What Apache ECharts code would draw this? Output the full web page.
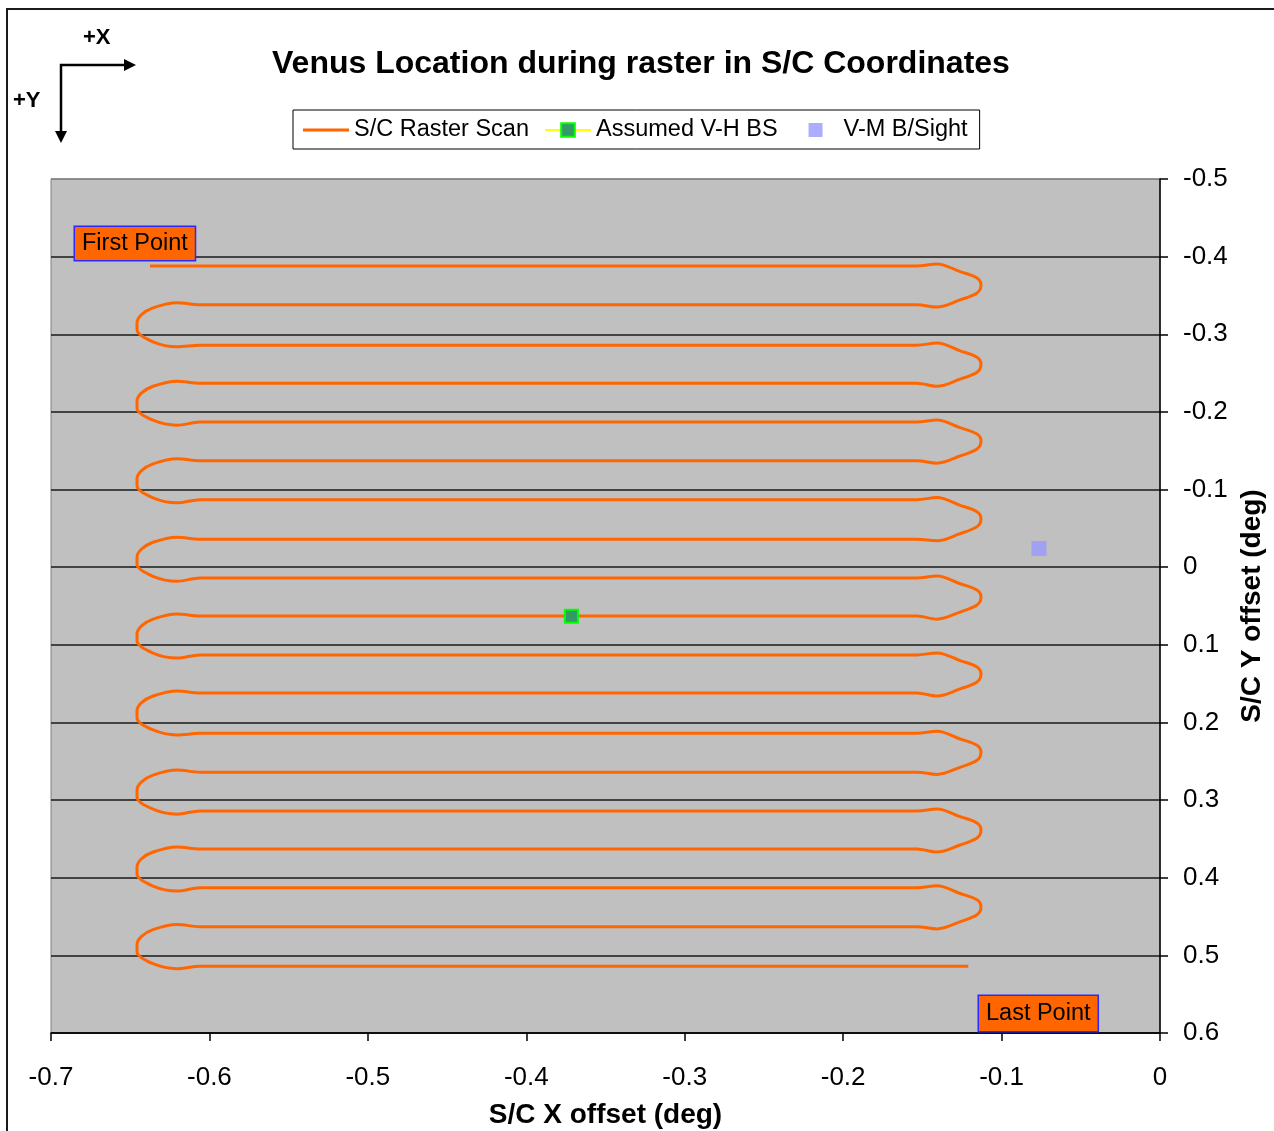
<!DOCTYPE html>
<html><head><meta charset="utf-8">
<script src="https://cdn.jsdelivr.net/npm/echarts@6/dist/echarts.min.js"></script>
<style>html,body{margin:0;padding:0;background:#fff}#c{width:1274px;height:1131px}</style>
</head><body><div id="c"></div>
<script>
// ---- data ----
const seriesNames = ['S/C Raster Scan', 'Assumed V-H BS', 'V-M B/Sight'];
// Y offsets of the 19 raster rows (deg)
const rowY = [-0.388, -0.338, -0.286, -0.237, -0.187, -0.137, -0.087, -0.036, 0.014, 0.063,
              0.113, 0.162, 0.214, 0.264, 0.314, 0.363, 0.413, 0.463, 0.514];
const scanStartX = -0.6375;   // first point
const scanEndX = -0.121;      // last point
// turnaround shape at the right end (x, y offset from the row it leaves)
const rightTurnX  = [-0.1534, -0.1408, -0.1262, -0.1155, -0.1130, -0.1155, -0.1262, -0.1408];
const rightTurnDY = [0, -0.0026, 0.0073, 0.0155, 0.0245, 0.0348, 0.0438, 0.0530];
const rightTurnEndX = -0.1534;
// turnaround shape at the left end
const leftTurnX  = [-0.6060, -0.6205, -0.6356, -0.6430, -0.6457, -0.6457, -0.6356, -0.6205];
const leftTurnDY = [0, -0.0026, 0.0039, 0.0129, 0.0232, 0.0322, 0.0477, 0.0541];
const leftTurnEndX = -0.6060;
const vhBoresight = [[-0.3715, 0.0632]];
const vmBoresight = [[-0.0764, -0.0241]];
// axes
const xMin = -0.7, xMax = 0, xStep = 0.1;
const yMin = -0.5, yMax = 0.6, yStep = 0.1;

// ---- build the raster path from the rows and the turn shapes ----
const scanPath = [[scanStartX, rowY[0]]];
for (let i = 0; i < rowY.length - 1; i++) {
  const right = i % 2 === 0;
  const tx = right ? rightTurnX : leftTurnX;
  const ty = right ? rightTurnDY : leftTurnDY;
  for (let k = 0; k < tx.length; k++) scanPath.push([tx[k], rowY[i] + ty[k]]);
  scanPath.push([right ? rightTurnEndX : leftTurnEndX, rowY[i + 1]]);
}
scanPath.push([scanEndX, rowY[rowY.length - 1]]);

const FONT = '"Liberation Sans", Arial, sans-serif';
const yTickCount = Math.round((yMax - yMin) / yStep) + 1;
const ySplitColors = [];
for (let i = 0; i < yTickCount; i++) ySplitColors.push(i === 0 ? '#808080' : '#1a1a1a');
const fmt1 = v => String(Number(v.toFixed(1)));

const chart = echarts.init(document.getElementById('c'), null, {renderer: 'canvas'});
chart.setOption({
  animation: false,
  backgroundColor: '#ffffff',
  textStyle: {fontFamily: FONT},
  title: {
    text: 'Venus Location during raster in S/C Coordinates',
    left: 267, top: 43, padding: 5,
    textStyle: {fontSize: 32, fontWeight: 'bold', color: '#000', fontFamily: FONT}
  },
  legend: {
    left: 293, top: 110, orient: 'horizontal',
    itemWidth: 46, itemHeight: 17, itemGap: 15,
    padding: [8, 12, 7, 10],
    symbolKeepAspect: true,
    borderColor: '#000', borderWidth: 1, backgroundColor: '#fff',
    textStyle: {fontSize: 23.5, color: '#000', fontFamily: FONT},
    data: [
      {name: seriesNames[0], icon: 'path://M0,0L0,0M46,17L46,17M0,7L46,7L46,10L0,10Z'},
      {name: seriesNames[1]},
      {name: seriesNames[2], icon: 'path://M0,0L0,0M46,17L46,17M16,1.5L30,1.5L30,15.5L16,15.5Z'}
    ]
  },
  grid: {
    left: 51, top: 179, width: 1109, height: 854,
    show: true, backgroundColor: '#C0C0C0', borderColor: '#808080', borderWidth: 1,
    containLabel: false, outerBoundsMode: 'none'
  },
  xAxis: {
    type: 'value', min: xMin, max: xMax, interval: xStep,
    name: 'S/C X offset (deg)', nameLocation: 'middle', nameGap: 68,
    nameTextStyle: {fontSize: 28, fontWeight: 'bold', color: '#000', fontFamily: FONT},
    axisLine: {show: true, onZero: false, lineStyle: {color: '#000', width: 1.5}},
    axisTick: {show: true, inside: false, length: 8, lineStyle: {color: '#000', width: 1.5}},
    axisLabel: {margin: 32, fontSize: 26, color: '#000', fontFamily: FONT, formatter: fmt1},
    splitLine: {show: false}
  },
  yAxis: {
    type: 'value', position: 'right', inverse: true,
    min: yMin, max: yMax, interval: yStep,
    name: 'S/C Y offset (deg)', nameLocation: 'middle', nameGap: 78, nameRotate: 90,
    nameTextStyle: {fontSize: 28, fontWeight: 'bold', color: '#000', fontFamily: FONT},
    axisLine: {show: true, onZero: false, lineStyle: {color: '#000', width: 1.5}},
    axisTick: {show: true, inside: false, length: 8, lineStyle: {color: '#000', width: 1.5}},
    axisLabel: {margin: 23, fontSize: 26, color: '#000', fontFamily: FONT, formatter: fmt1,
      padding: [4, 0, 0, 0]},
    splitLine: {show: true, lineStyle: {color: ySplitColors, width: 1.5}}
  },
  series: [
    {
      name: seriesNames[0], type: 'line', data: scanPath,
      symbol: 'none', showSymbol: false, smooth: 0.35, z: 2,
      lineStyle: {color: '#FF6600', width: 3},
      itemStyle: {color: '#FF6600'}
    },
    {
      name: seriesNames[1], type: 'line', data: vhBoresight,
      symbol: 'rect', symbolSize: 13, showSymbol: true, z: 4,
      lineStyle: {color: '#FFFF00', width: 2},
      itemStyle: {color: '#339966', borderColor: '#00FF00', borderWidth: 2}
    },
    {
      name: seriesNames[2], type: 'scatter', data: vmBoresight,
      symbol: 'rect', symbolSize: 15, z: 4,
      itemStyle: {color: '#9999FF'}
    }
  ],
  graphic: [
    {type: 'rect', silent: true, z: 0,
      shape: {x: 7, y: 9, width: 1320, height: 1200},
      style: {fill: 'none', stroke: '#1a1a1a', lineWidth: 2}},
    {type: 'polyline', silent: true,
      shape: {points: [[61, 132], [61, 65], [125, 65]]},
      style: {stroke: '#000', lineWidth: 2.5, fill: 'none'}},
    {type: 'polygon', silent: true,
      shape: {points: [[124, 59], [136, 65], [124, 71]]}, style: {fill: '#000'}},
    {type: 'polygon', silent: true,
      shape: {points: [[55, 131], [61, 143], [67, 131]]}, style: {fill: '#000'}},
    {type: 'text', silent: true, x: 83, y: 27,
      style: {text: '+X', font: 'bold 22px ' + FONT, fill: '#000'}},
    {type: 'text', silent: true, x: 13, y: 90,
      style: {text: '+Y', font: 'bold 22px ' + FONT, fill: '#000'}},
    {type: 'text', silent: true, x: 75, y: 227, z: 10,
      style: {text: 'First Point', font: '23.5px ' + FONT, fill: '#000',
        backgroundColor: '#FF6600', borderColor: '#2a2aff', borderWidth: 1.5,
        padding: [5, 7, 4, 7]}},
    {type: 'text', silent: true, x: 979, y: 996, z: 10,
      style: {text: 'Last Point', font: '23.5px ' + FONT, fill: '#000',
        backgroundColor: '#FF6600', borderColor: '#2a2aff', borderWidth: 1.5,
        padding: [6, 7, 5, 7]}}
  ]
});
</script>
</body></html>
